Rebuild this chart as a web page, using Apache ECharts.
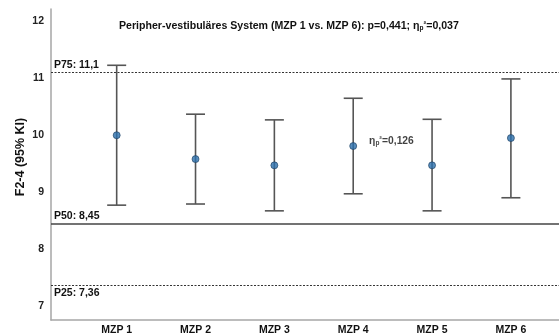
<!DOCTYPE html>
<html>
<head>
<meta charset="utf-8">
<style>
  html, body { margin: 0; padding: 0; background: #ffffff; }
  #chart { width: 559px; height: 336px; }
</style>
<script src="https://cdn.jsdelivr.net/npm/echarts@6/dist/echarts.min.js"></script>
</head>
<body>
<div id="chart"></div>
<script>
// Measurement points and the 95% confidence interval of F2-4 at each of them
const categories = ['MZP 1', 'MZP 2', 'MZP 3', 'MZP 4', 'MZP 5', 'MZP 6'];
const means = [10.00, 9.58, 9.47, 9.81, 9.47, 9.95];
const ciLower = [8.77, 8.79, 8.67, 8.97, 8.67, 8.90];
const ciUpper = [11.23, 10.37, 10.27, 10.65, 10.28, 10.99];

// Percentile reference lines of the norm sample
const refNames = ['P75', 'P50', 'P25'];
const refValues = [11.1, 8.45, 7.36];
const refLabels = ['11,1', '8,45', '7,36'];

const yTicks = [7, 8, 9, 10, 11, 12];
const xPositions = categories.map((_, i) => i + 1);

const FONT = '"Liberation Sans", Arial, Helvetica, sans-serif';
const BAR_COLOR = '#555555';

const chart = echarts.init(document.getElementById('chart'), null, { renderer: 'canvas' });

const barData = xPositions.map((x, i) => [x, ciLower[i], ciUpper[i]]);
const meanData = xPositions.map((x, i) => [x, means[i]]);

const refLines = refValues.map((v, i) => ({
  yAxis: v,
  lineStyle: {
    type: refNames[i] === 'P50' ? 'solid' : [2, 1.5],
    width: refNames[i] === 'P50' ? 1.5 : 1,
    color: refNames[i] === 'P50' ? '#444444' : '#333333'
  },
  label: {
    show: true,
    formatter: refNames[i] + ': ' + refLabels[i],
    position: refNames[i] === 'P25' ? 'insideStartBottom' : 'insideStartTop',
    distance: [3, 2],
    color: '#111111',
    fontFamily: FONT,
    fontWeight: 'bold',
    fontSize: 10.5
  }
}));

const richEta = {
  sub: { fontFamily: FONT, fontWeight: 'bold', fontSize: 6.5, color: '#111111', verticalAlign: 'bottom', padding: [4, 0, 0, 0] },
  sup: { fontFamily: FONT, fontWeight: 'bold', fontSize: 8, color: '#111111', verticalAlign: 'top', padding: [0, 0, 3, 0] }
};

const option = {
  animation: false,
  backgroundColor: '#ffffff',
  title: {
    text: 'Peripher-vestibuläres System (MZP 1 vs. MZP 6): p=0,441; η{sub|p}{sup|²}=0,037',
    left: 114,
    top: 16,
    textStyle: {
      fontFamily: FONT,
      fontWeight: 'bold',
      fontSize: 10.6,
      color: '#111111',
      rich: richEta
    }
  },
  grid: { left: 51, right: 0, top: 9, bottom: 16, containLabel: false, outerBoundsMode: 'none' },
  xAxis: {
    type: 'value',
    min: 0.167,
    max: 6.61,
    splitLine: { show: false },
    axisLine: { show: true, onZero: false, lineStyle: { color: '#a6a6a6', width: 1.5 } },
    axisTick: { show: false },
    axisLabel: {
      customValues: xPositions,
      formatter: v => categories[Math.round(v) - 1] || '',
      fontFamily: FONT,
      fontWeight: 'bold',
      fontSize: 10.5,
      color: '#111111',
      margin: 5
    }
  },
  yAxis: {
    type: 'value',
    min: 6.75,
    max: 12.22,
    name: 'F2-4 (95% KI)',
    nameLocation: 'middle',
    nameGap: 24,
    nameMoveOverlap: false,
    nameRotate: 90,
    nameTextStyle: { fontFamily: FONT, fontWeight: 'bold', fontSize: 12.5, color: '#111111', padding: [0, 0, 0, 15] },
    splitLine: { show: false },
    axisLine: { show: true, onZero: false, lineStyle: { color: '#a6a6a6', width: 1.5 } },
    axisTick: { show: false },
    axisLabel: {
      customValues: yTicks,
      fontFamily: FONT,
      fontWeight: 'bold',
      fontSize: 10.5,
      color: '#222222',
      margin: 7
    }
  },
  series: [
    {
      name: 'KI',
      type: 'custom',
      data: barData,
      encode: { x: 0, y: [1, 2] },
      renderItem: function (params, api) {
        const x = api.value(0);
        const lo = api.coord([x, api.value(1)]);
        const hi = api.coord([x, api.value(2)]);
        const half = 9.5;
        const style = { stroke: BAR_COLOR, lineWidth: 1.6, fill: null };
        return {
          type: 'group',
          children: [
            { type: 'line', shape: { x1: lo[0], y1: lo[1], x2: hi[0], y2: hi[1] }, style: style },
            { type: 'line', shape: { x1: hi[0] - half, y1: hi[1], x2: hi[0] + half, y2: hi[1] }, style: style },
            { type: 'line', shape: { x1: lo[0] - half, y1: lo[1], x2: lo[0] + half, y2: lo[1] }, style: style }
          ]
        };
      },
      markLine: {
        silent: true,
        symbol: 'none',
        data: refLines
      },
      z: 2
    },
    {
      name: 'Mittelwert',
      type: 'scatter',
      data: meanData.map((d, i) => i === 3 ? {
        value: d,
        label: {
          show: true,
          position: 'right',
          distance: 12,
          offset: [0, -5],
          formatter: 'η{sub|p}{sup|²}=0,126',
          fontFamily: FONT,
          fontWeight: 'bold',
          fontSize: 10.3,
          color: '#111111',
          rich: richEta
        }
      } : d),
      symbol: 'circle',
      symbolSize: 7,
      itemStyle: { color: '#2a6fad', borderColor: '#1d3d5e', borderWidth: 0.8 },
      z: 3
    }
  ]
};

chart.setOption(option);
</script>
</body>
</html>
